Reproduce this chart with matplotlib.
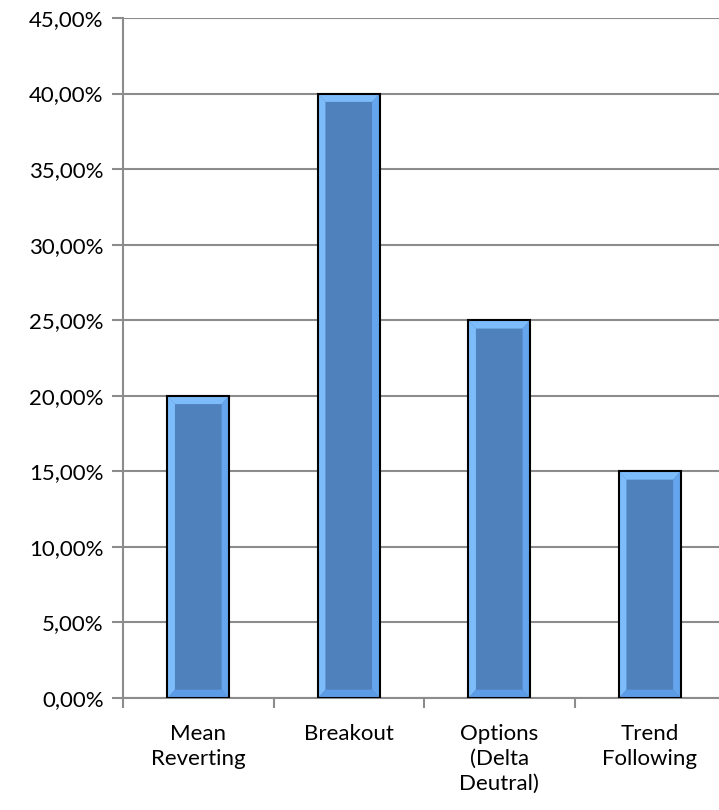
import matplotlib.pyplot as plt
from matplotlib.patches import Polygon, Rectangle
from matplotlib.ticker import FuncFormatter, MultipleLocator

categories = ['Mean\nReverting', 'Breakout', 'Options\n(Delta\nDeutral)', 'Trend\nFollowing']
values = [20.0, 40.0, 25.0, 15.0]

plt.rcParams['font.family'] = ['Lato', 'DejaVu Sans']

fig = plt.figure(figsize=(7.19, 8.10), dpi=100)
ax = fig.add_axes([123 / 719, 112 / 810, 602 / 719, 680 / 810])

ax.set_xlim(-0.5, len(categories) - 0.5)
ax.set_ylim(0, 45)

grid_c = '#8C8C8C'
ax.yaxis.set_major_locator(MultipleLocator(5))
ax.yaxis.grid(True, color=grid_c, lw=1.5)
ax.set_axisbelow(True)
for s in ['top', 'right']:
    ax.spines[s].set_visible(False)
for s in ['left', 'bottom']:
    ax.spines[s].set_color(grid_c)
    ax.spines[s].set_linewidth(1.5)

ax.yaxis.set_major_formatter(FuncFormatter(lambda v, p: f'{v:.2f}%'.replace('.', ',')))
ax.tick_params(axis='y', length=8, width=1.5, color=grid_c, labelsize=16, pad=6)

# category boundaries as major ticks, labels on minor ticks
ax.set_xticks([i + 0.5 for i in range(-1, len(categories))])
ax.set_xticklabels([])
ax.set_xticks(range(len(categories)), minor=True)
ax.set_xticklabels(categories, minor=True, fontsize=16, va='top', ha='center', linespacing=1.3)
ax.tick_params(axis='x', which='major', length=7, width=1.5, color=grid_c)
ax.tick_params(axis='x', which='minor', length=0, pad=19)

w = 0.41
bx = 0.05   # bevel in category units
by = 0.55   # bevel in data units
inner = '#4F81BD'
light = '#7DBCFA'
right_c = '#64A5EE'
bot_c = '#5C9CE6'
for i, v in enumerate(values):
    x0, x1 = i - w / 2, i + w / 2
    ax.add_patch(Rectangle((x0, 0), w, v, facecolor=inner, edgecolor='none', zorder=3))
    ax.add_patch(Polygon([(x0, 0), (x0, v), (x0 + bx, v - by), (x0 + bx, by)],
                         closed=True, facecolor=light, edgecolor='none', zorder=4))
    ax.add_patch(Polygon([(x0, v), (x1, v), (x1 - bx, v - by), (x0 + bx, v - by)],
                         closed=True, facecolor=light, edgecolor='none', zorder=4))
    ax.add_patch(Polygon([(x1, v), (x1, 0), (x1 - bx, by), (x1 - bx, v - by)],
                         closed=True, facecolor=right_c, edgecolor='none', zorder=4))
    ax.add_patch(Polygon([(x0, 0), (x1, 0), (x1 - bx, by), (x0 + bx, by)],
                         closed=True, facecolor=bot_c, edgecolor='none', zorder=4))
    ax.add_patch(Rectangle((x0, 0), w, v, facecolor='none', edgecolor='black', lw=1.5, zorder=5))

fig.savefig('out.png', dpi=100)
